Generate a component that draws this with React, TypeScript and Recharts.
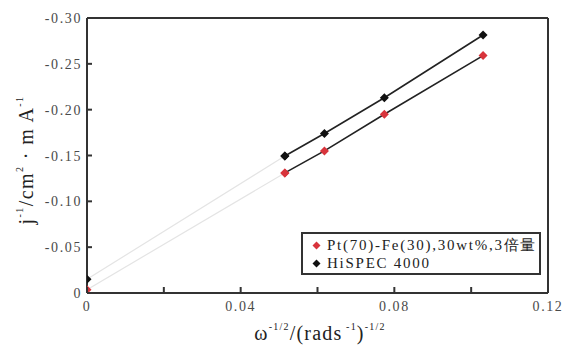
import * as React from "react";
import { ReferenceLine, Scatter, ScatterChart, XAxis, YAxis } from "recharts";

// ω^-1/2 values of the measured points
const omegaInv = [0.0515, 0.0618, 0.0774, 0.1031];
const ptFe = [-0.131, -0.155, -0.195, -0.259];
const hispec = [-0.1495, -0.174, -0.213, -0.2815];
// extrapolated intercepts at ω^-1/2 = 0
const ptFeIntercept = -0.0036;
const hispecIntercept = -0.015;

const xTicks = [0, 0.02, 0.04, 0.06, 0.08, 0.1, 0.12];
const xLabelled = [0, 0.04, 0.08, 0.12];
const yTicks = [-0.3, -0.25, -0.2, -0.15, -0.1, -0.05, 0];
const seriesNames = ["Pt(70)-Fe(30),30wt%,3倍量", "HiSPEC 4000"];
const seriesColors = ["#d8343c", "#111111"];

const FONT = "Liberation Serif, Times New Roman, serif";
const AXIS = "#333";

const toPoints = (ys: number[]) => omegaInv.map((x, i) => ({ x, y: ys[i] }));
const ptFeData = toPoints(ptFe);
const hispecData = toPoints(hispec);
const ptFeExtra = [{ x: 0, y: ptFeIntercept }, ptFeData[0]];
const hispecExtra = [{ x: 0, y: hispecIntercept }, hispecData[0]];

const Diamond = (props: any) => {
  const { cx, cy, fill } = props;
  if (typeof cx !== "number" || typeof cy !== "number") return null;
  const r = 4.5;
  return <polygon points={`${cx},${cy - r} ${cx + r},${cy} ${cx},${cy + r} ${cx - r},${cy}`} fill={fill} />;
};

const fmtY = (v: number) => (v === 0 ? "0" : v.toFixed(2));
const fmtX = (v: number) => (v === 0 ? "0" : String(v));

const YTick = (props: any) => {
  const { x, y, payload } = props;
  const ax = x + 5;
  return (
    <g>
      <line x1={ax} x2={ax + 5} y1={y} y2={y} stroke={AXIS} strokeWidth={2} />
      <text x={x} y={y} dy="0.36em" textAnchor="end" fontFamily={FONT} fontSize={14} letterSpacing={1.6} fill="#4a4a4a">
        {fmtY(payload.value)}
      </text>
    </g>
  );
};

const XTick = (props: any) => {
  const { x, y, payload } = props;
  const ay = y - 7;
  const show = xLabelled.some((v) => Math.abs(v - payload.value) < 1e-9);
  return (
    <g>
      <line x1={x} x2={x} y1={ay} y2={ay - 6} stroke={AXIS} strokeWidth={2} />
      {show && (
        <text x={x} y={y} dy="0.8em" textAnchor="middle" fontFamily={FONT} fontSize={14} letterSpacing={1.6} fill="#4a4a4a">
          {fmtX(payload.value)}
        </text>
      )}
    </g>
  );
};

const XLabel = () => (
  <text x={320} y={340} textAnchor="middle" fontFamily={FONT} fontSize={20} letterSpacing={1.2} fill="#222">
    <tspan>ω</tspan>
    <tspan fontSize={10} dy={-10}>-1/2</tspan>
    <tspan dy={10}>/(rads</tspan>
    <tspan fontSize={10} dy={-10}> -1</tspan>
    <tspan dy={10}>)</tspan>
    <tspan fontSize={10} dy={-10}>-1/2</tspan>
  </text>
);

const YLabel = () => {
  const cx = 26;
  const cy = 160;
  return (
    <text x={cx} y={cy} transform={`rotate(-90 ${cx} ${cy})`} dy="0.35em" textAnchor="middle" fontFamily={FONT} fontSize={20} letterSpacing={1.4} fill="#222">
      <tspan>j</tspan>
      <tspan fontSize={10} dy={-10}>-1</tspan>
      <tspan dy={10}>/cm</tspan>
      <tspan fontSize={10} dy={-10}>2</tspan>
      <tspan dy={10}> · m A</tspan>
      <tspan fontSize={10} dy={-10}>-1</tspan>
    </text>
  );
};

const LegendBox = () => (
  <div
    style={{
      position: "absolute",
      left: 301,
      top: 232,
      border: `2px solid ${AXIS}`,
      padding: "2px 0 2px 9px",
      fontFamily: FONT,
      fontSize: 15,
      letterSpacing: 1.75,
      color: "#222",
      lineHeight: "18px",
      boxSizing: "border-box",
      width: 240,
      height: 43,
      background: "#fff",
    }}
  >
    {seriesNames.map((name, i) => (
      <div key={name} style={{ display: "flex", alignItems: "center", whiteSpace: "nowrap" }}>
        <svg width={9} height={9} style={{ marginRight: 6, flex: "none" }}>
          <polygon points="4.5,0.5 8.5,4.5 4.5,8.5 0.5,4.5" fill={seriesColors[i]} />
        </svg>
        <span>{name}</span>
      </div>
    ))}
  </div>
);

export default function App() {
  return (
    <div style={{ position: "absolute", left: 0, top: 0, width: 572, height: 345, background: "#fff" }}>
      <ScatterChart width={572} height={345} margin={{ top: 18, right: 24, bottom: 0, left: 0 }}>
        <XAxis
          type="number"
          dataKey="x"
          domain={[0, 0.12]}
          ticks={xTicks}
          interval={0}
          height={52}
          tickSize={0}
          tickMargin={7}
          tick={<XTick />}
          stroke={AXIS}
          strokeWidth={2}
          allowDataOverflow
          label={<XLabel />}
        />
        <YAxis
          type="number"
          dataKey="y"
          domain={[-0.3, 0]}
          reversed
          ticks={yTicks}
          interval={0}
          width={87}
          tickSize={0}
          tickMargin={5}
          tick={<YTick />}
          stroke={AXIS}
          strokeWidth={2}
          allowDataOverflow
          label={<YLabel />}
        />
        <ReferenceLine y={-0.3} stroke={AXIS} strokeWidth={2} />
        <ReferenceLine x={0.12} stroke={AXIS} strokeWidth={2} />
        <Scatter data={ptFeExtra} fill={seriesColors[0]} line={{ stroke: "#e4e4e4", strokeWidth: 1.2 }} shape={<Diamond />} isAnimationActive={false} legendType="none" />
        <Scatter data={hispecExtra} fill={seriesColors[1]} line={{ stroke: "#e4e4e4", strokeWidth: 1.2 }} shape={<Diamond />} isAnimationActive={false} legendType="none" />
        <Scatter name={seriesNames[0]} data={ptFeData} fill={seriesColors[0]} line={{ stroke: "#222", strokeWidth: 1.6 }} shape={<Diamond />} isAnimationActive={false} />
        <Scatter name={seriesNames[1]} data={hispecData} fill={seriesColors[1]} line={{ stroke: "#222", strokeWidth: 1.6 }} shape={<Diamond />} isAnimationActive={false} />
      </ScatterChart>
      <LegendBox />
    </div>
  );
}
